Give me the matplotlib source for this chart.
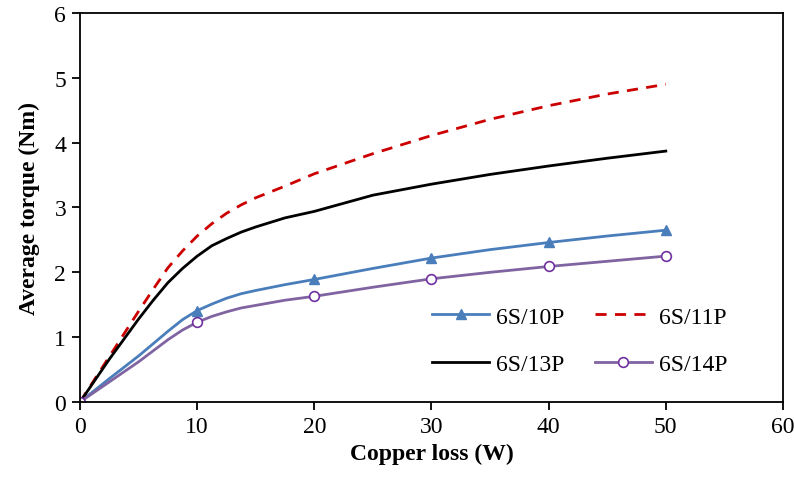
import matplotlib
matplotlib.use("Agg")
import matplotlib.pyplot as plt

plt.rcParams['font.family'] = ['Liberation Serif', 'DejaVu Serif']

# copper loss (W) and average torque (Nm)
loss = [0, 2.5, 5, 6.25, 7.5, 8.75, 10, 11.25, 12.5, 13.75, 15, 17.5, 20,
        25, 30, 35, 40, 45, 50]
t_10p = [0, 0.36, 0.71, 0.90, 1.09, 1.27, 1.41, 1.51, 1.60, 1.67, 1.72, 1.81, 1.89,
         2.06, 2.22, 2.35, 2.46, 2.56, 2.65]
t_11p = [0, 0.70, 1.40, 1.74, 2.07, 2.33, 2.56, 2.75, 2.91, 3.04, 3.15, 3.33, 3.52,
         3.83, 4.11, 4.36, 4.57, 4.75, 4.90]
t_13p = [0, 0.66, 1.28, 1.57, 1.84, 2.06, 2.25, 2.41, 2.52, 2.62, 2.70, 2.84, 2.94,
         3.19, 3.36, 3.51, 3.64, 3.76, 3.87]
t_14p = [0, 0.31, 0.62, 0.79, 0.96, 1.11, 1.23, 1.32, 1.39, 1.45, 1.49, 1.57, 1.63,
         1.77, 1.90, 2.00, 2.09, 2.17, 2.25]

# measured points every 10 W carry markers
marked = [i for i, x in enumerate(loss) if x % 10 == 0]

fig = plt.figure(figsize=(7.94, 4.81), dpi=100)
ax = fig.add_axes([0.1008, 0.1622, 0.8853, 0.8087])

l10, = ax.plot(loss, t_10p, color='#4A7EBB', lw=2, marker='^', ms=7,
               markevery=marked, label='6S/10P')
l11, = ax.plot(loss, t_11p, color='#CC0000', lw=2, ls=(0, (4, 3)), label='6S/11P')
l13, = ax.plot(loss, t_13p, color='black', lw=2, label='6S/13P')
l14, = ax.plot(loss, t_14p, color='#8064A2', lw=2, marker='o', ms=7, mfc='white',
               mec='#7030A0', mew=1.2, markevery=marked, label='6S/14P')

ax.set_xlim(0, 60)
ax.set_ylim(0, 6)
ax.set_xticks(range(0, 61, 10))
ax.set_yticks(range(0, 7))
ax.tick_params(direction='out', length=6, width=1.3, labelsize=17, pad=4)
for s in ax.spines.values():
    s.set_linewidth(1.3)

ax.set_xlabel('Copper loss (W)', fontsize=17, fontweight='bold', labelpad=4)
ax.set_ylabel('Average torque (Nm)', fontsize=17, fontweight='bold', labelpad=10)

# legend filled column-wise, so order gives rows 10P/11P and 13P/14P
ax.legend([l10, l13, l11, l14], ['6S/10P', '6S/13P', '6S/11P', '6S/14P'],
          loc='center', bbox_to_anchor=(0.711, 0.158), ncol=2, frameon=False,
          fontsize=17, handlelength=2.4, handletextpad=0.3, columnspacing=1.3,
          labelspacing=1.1)

fig.savefig('out.png', dpi=100)
